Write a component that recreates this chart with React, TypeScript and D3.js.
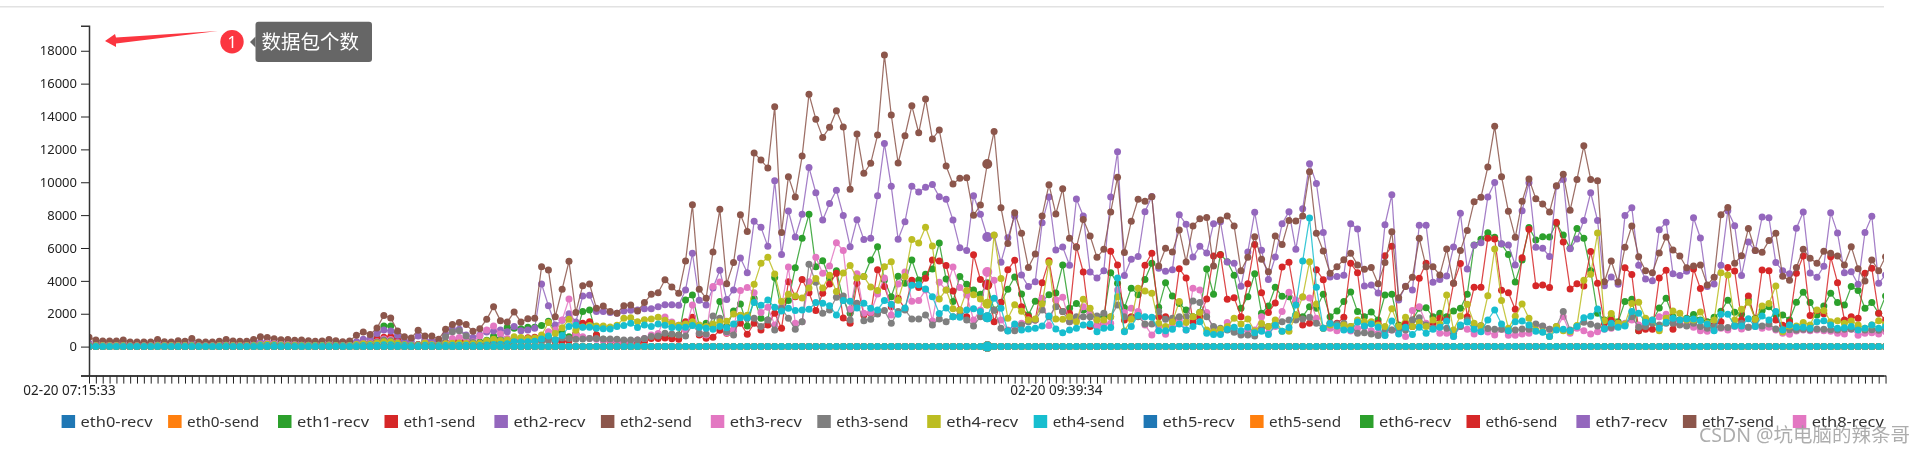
import React, { useEffect, useRef } from "react";
import * as d3 from "d3";

const legendNames = [
  "eth0-recv","eth0-send","eth1-recv","eth1-send","eth2-recv","eth2-send","eth3-recv","eth3-send","eth4-recv","eth4-send",
  "eth5-recv","eth5-send","eth6-recv","eth6-send","eth7-recv","eth7-send","eth8-recv",
];
const hiddenNames = ["eth8-send", "eth9-recv", "eth9-send"];
const palette = ["#1f77b4","#ff7f0e","#2ca02c","#d62728","#9467bd","#8c564b","#e377c2","#7f7f7f","#bcbd22","#17becf"];
const yTickValues = [0,2000,4000,6000,8000,10000,12000,14000,16000,18000];
const xLabelFirst = "02-20 07:15:33";
const xLabelSecond = "02-20 09:39:34";
const hoverIndex = 131;
const secondLabelIndex = 141;

const idle = [
  0,0,0,0,0,0,0,0,0,0,0,0,0,0,0,0,0,0,0,0,0,0,0,0,0,0,0,0,0,0,0,0,0,0,0,0,0,0,0,0,0,0,0,0,0,0,0,0,0,0,
  0,0,0,0,0,0,0,0,0,0,0,0,0,0,0,0,0,0,0,0,0,0,0,0,0,0,0,0,0,0,0,0,0,0,0,0,0,0,0,0,0,0,0,0,0,0,0,0,0,0,
  0,0,0,0,0,0,0,0,0,0,0,0,0,0,0,0,0,0,0,0,0,0,0,0,0,0,0,0,0,0,0,0,0,0,0,0,0,0,0,0,0,0,0,0,0,0,0,0,0,0,
  0,0,0,0,0,0,0,0,0,0,0,0,0,0,0,0,0,0,0,0,0,0,0,0,0,0,0,0,0,0,0,0,0,0,0,0,0,0,0,0,0,0,0,0,0,0,0,0,0,0,
  0,0,0,0,0,0,0,0,0,0,0,0,0,0,0,0,0,0,0,0,0,0,0,0,0,0,0,0,0,0,0,0,0,0,0,0,0,0,0,0,0,0,0,0,0,0,0,0,0,0,
  0,0,0,0,0,0,0,0,0,0,0,0,0,
];

const eth1Recv = [
  60,50,50,50,50,60,40,40,40,40,
  60,50,50,50,50,70,40,40,40,50,
  60,50,50,50,60,90,100,90,80,70,
  70,60,60,50,50,70,60,50,50,120,
  220,180,500,1260,1260,550,200,120,130,350,
  220,150,260,340,360,330,220,280,380,650,
  470,1180,1120,1080,1180,1180,1280,1550,970,840,
  600,750,2130,2230,710,450,420,400,350,330,
  380,420,550,600,650,680,700,2840,3140,1260,
  1420,1320,2740,1220,2170,2590,1260,2920,1720,1620,
  4200,2190,2800,4800,6590,8050,4860,5230,4180,4620,
  2840,2030,4200,4260,5270,6080,4050,3040,4280,3850,
  5270,4050,4400,4720,6300,4110,2740,4260,3790,3450,
  3180,3790,2230,2700,3490,4240,3200,1930,2760,2740,
  3160,3260,4970,2330,2630,2230,2030,1820,1820,4500,
  3850,2370,3550,3160,4090,5070,2390,3890,3080,2630,
  2230,1820,2090,4720,3180,5610,5170,4340,2330,3040,
  4440,2030,2470,3610,3060,3040,1930,1820,2430,2330,
  3180,1820,2170,2740,3320,2130,1820,2110,1620,3140,
  3180,1320,1420,1620,2330,2370,1820,2030,1820,2170,
  2330,3180,6180,6530,6930,6650,6240,5610,3930,5270,
  7240,6490,6690,6670,7500,6790,5980,7180,6590,4620,
  2030,1620,1820,1520,2740,2880,970,1620,1520,2350,
  2940,1820,1620,1720,1950,1620,1520,1780,2150,2820,
  2090,1970,2840,1720,2190,2430,1930,1930,1620,2700,
  3300,2680,1930,2470,3240,2680,2530,3650,3410,2330,
  2680,2030,3080,
];

const eth1Send = [
  80,60,50,50,50,60,40,40,40,40,
  70,50,50,50,50,80,40,40,40,50,
  70,50,50,50,70,140,190,170,120,100,
  100,80,80,60,60,90,60,50,60,150,
  200,260,470,570,610,380,180,100,120,260,
  130,100,200,340,340,340,180,200,230,280,
  270,300,360,500,540,570,500,570,300,300,
  350,800,1420,1520,710,400,300,300,250,250,
  270,300,500,500,520,480,450,1520,1780,710,
  510,570,1000,810,1010,1420,750,1420,1010,1320,
  2030,1110,3950,3040,4090,3280,2190,3240,3810,4460,
  1740,1420,3850,1930,2030,4680,3650,2430,2940,2300,
  4030,3590,4160,5270,5210,4930,3390,2230,1820,5590,
  4090,3750,1520,2680,4680,5250,2430,1820,1620,3890,
  5230,2840,2130,2030,6080,4540,1220,1260,1420,5800,
  4970,1620,1820,2030,4950,5680,1820,1820,1620,4740,
  4180,1500,1820,2900,5510,5590,2880,2980,1820,3830,
  6220,3280,2070,2660,4840,5130,2740,1320,1420,4680,
  4070,1420,1420,1780,5070,4500,1220,1420,1420,5530,
  6100,1010,1420,1220,4160,5070,1420,1720,1620,3850,
  5050,1820,3610,3610,6590,6550,3430,3280,2270,5410,
  7140,3710,3750,3590,7560,6360,3510,3830,3690,5780,
  3850,1420,1620,1420,4800,4380,970,1050,1050,4180,
  4640,1050,1620,1620,4720,3530,1320,1320,1520,4820,
  4600,1620,3080,1620,4660,4620,1620,1300,1500,4460,
  5510,1900,2200,2000,5470,3890,1620,1820,1720,4460,
  4760,2030,1620,
];

const eth2Recv = [
  200,180,170,170,170,180,160,160,160,160,
  200,170,160,170,170,200,160,160,160,170,
  200,170,170,170,220,280,300,270,240,220,
  230,200,210,180,190,220,200,170,180,300,
  450,480,800,1010,950,690,360,300,650,400,
  350,300,700,1050,1050,700,560,700,890,950,
  1010,910,1220,970,1010,1110,3810,2490,1320,1600,
  2000,1500,3080,3120,2130,2130,2070,2030,2170,2210,
  2230,2310,2310,2430,2550,2550,2510,3450,5680,2820,
  2530,3570,4640,2860,3450,5390,4500,7620,7260,6100,
  10090,5610,8250,6670,8050,10900,9360,7700,8700,9510,
  7970,6080,7720,6510,6590,9180,12360,9750,6530,7600,
  9750,9410,9690,9870,9120,8960,7700,6020,5840,9180,
  8050,6670,6770,5130,6630,7950,4360,3650,3950,7540,
  9100,5880,6060,4950,8980,7950,4540,4180,4620,9100,
  11860,4320,5310,5490,8210,9140,4760,4580,4680,8030,
  7440,5450,6100,5700,7480,7600,5150,5070,3670,5760,
  8170,5860,4090,5450,7480,8210,5920,8390,11130,9930,
  6950,4240,4260,4340,7480,7160,3690,3750,3260,7420,
  9240,2840,3670,3450,7380,7380,3910,4090,4300,6060,
  8110,4720,6160,6320,9100,9990,6260,6180,4970,8270,
  9970,6040,5980,5490,9750,10160,5960,6550,7680,9360,
  7680,3710,4240,3790,7970,8450,4950,4110,4010,7110,
  7560,4440,4320,4580,7840,6610,3650,3810,4950,8270,
  7360,4320,6360,5840,7880,7840,5110,4620,4430,7200,
  8190,4480,4220,4890,8150,6910,4500,4560,3790,6950,
  7930,3850,4360,
];

const eth2Send = [
  570,400,340,340,340,400,280,280,280,280,
  440,300,280,360,320,500,280,280,280,320,
  440,340,320,320,440,600,560,480,420,440,
  380,400,360,320,340,440,360,300,340,690,
  890,730,1130,1900,1740,950,600,530,1000,650,
  650,450,1050,1340,1460,1340,930,1090,1660,2430,
  1580,1500,2100,1500,1700,1720,4860,4660,1820,3490,
  5190,2070,3710,3810,2330,2470,2130,2030,2490,2530,
  2170,2680,3180,3280,4070,3630,3240,5210,8630,3490,
  2940,5760,8350,3830,5110,8030,7010,11780,11350,10860,
  14600,6950,10340,9100,11590,15360,13840,12730,13340,14350,
  13360,9570,12930,10540,11150,12870,17740,14090,11170,12830,
  14650,13010,15060,12630,13180,10990,9890,10240,10280,7990,
  8610,11110,13090,8450,6280,8150,6890,4820,5640,7950,
  9850,8070,9610,6590,6040,7740,6730,5430,5920,8190,
  10300,5720,7620,8960,8840,9120,4910,5980,5760,7090,
  5150,7340,7780,7860,4900,7700,7950,7340,4620,5430,
  6690,5310,4560,6730,6220,7680,7640,7950,10640,6890,
  5820,4460,4860,5290,5680,4970,4700,4820,3830,5110,
  6990,2980,3650,4220,6590,4860,4860,4360,5940,3850,
  5840,7070,8820,9080,10930,13400,10340,8230,6650,8840,
  10200,9000,8670,8190,9790,10480,8290,10170,12220,10170,
  10090,3950,5210,3930,6040,7340,5470,4620,4500,5700,
  6670,5880,5510,4800,4900,4970,3750,4220,8030,8470,
  5070,5530,7180,5840,5740,6450,6890,4280,4030,4820,
  5920,5370,5070,5800,5680,5510,4970,6080,4740,3990,
  5270,4620,5470,
];

const eth3Recv = [
  90,70,60,60,60,70,50,50,50,50,
  80,60,60,60,60,90,50,50,50,60,
  80,60,60,60,80,150,200,170,130,110,
  110,90,80,70,70,100,70,60,70,130,
  180,220,300,470,440,250,130,90,100,230,
  130,90,170,500,560,520,280,650,1010,1260,
  770,500,480,450,420,400,500,910,1010,1620,
  2900,700,600,500,450,400,380,300,250,280,
  400,500,700,800,1800,1500,1300,1000,2530,810,
  710,3650,3930,850,1010,3410,3590,3280,2070,2390,
  1320,2430,4840,1420,1520,3950,5430,4460,4910,6320,
  5840,2270,4440,2030,2070,3200,4180,1930,3810,4540,
  2760,2800,3450,1560,3910,3450,4840,3590,3140,1620,
  2230,4540,4030,1620,1010,1220,1420,1620,1620,2940,
  1280,2840,3000,1520,1620,2430,2030,1220,1420,1420,
  3450,2070,2330,2130,1320,710,1220,750,1220,1620,
  1010,3550,3450,2070,1010,810,1460,1110,810,1010,
  1010,1820,810,1220,2130,3300,2840,3000,2960,1720,
  1110,1110,970,1050,950,1110,1220,970,810,710,
  1010,810,610,2190,2430,1420,1110,810,810,610,
  1220,1050,770,1010,890,710,1050,690,690,770,
  810,1320,1220,1050,1110,1820,810,1110,970,770,
  910,1050,1110,1380,1420,1620,1320,1420,1520,1820,
  1970,1620,1420,1320,1180,970,930,1010,1110,1010,
  1220,1070,1180,1220,1110,1180,1010,810,750,950,
  1010,970,1010,970,930,810,770,1050,690,810,
  850,770,910,
];

const eth3Send = [
  70,60,50,50,50,60,40,40,40,40,
  70,50,50,50,50,70,40,40,40,50,
  60,50,50,50,60,120,150,130,100,90,
  90,70,70,60,60,80,60,50,50,100,
  150,180,260,400,350,220,130,80,90,200,
  120,100,600,910,970,650,250,200,300,350,
  400,300,330,320,300,320,300,350,430,520,
  500,450,470,490,490,470,470,450,400,400,
  400,490,610,650,810,770,710,650,1320,810,
  770,1860,1720,910,710,1900,1720,1720,1220,1620,
  1010,2330,1720,1050,1520,5010,3910,2030,2230,3000,
  3080,1620,2640,1580,1660,1990,2190,1420,2130,2230,
  1680,1680,1930,1320,1680,1520,1820,1930,1620,1260,
  1820,1780,2230,1110,970,970,1320,1520,1620,2230,
  1820,2430,2130,1520,1820,1820,1820,1860,2030,1820,
  2530,1820,1720,1820,1380,1380,2130,1660,1720,1820,
  1820,2780,2680,1820,1220,1110,1010,870,710,710,
  650,1110,1220,1380,1520,1620,1620,1680,1780,1420,
  1110,1420,1380,1420,1220,810,850,770,670,1010,
  1010,1110,1010,1620,1760,1320,1110,1220,1110,810,
  1220,1620,1260,1280,1100,1050,1050,970,1010,1070,
  1050,1380,1260,1050,1220,2130,1010,1260,1480,1360,
  1260,1110,1170,1220,1320,1820,1180,1220,1420,1320,
  1420,1420,1320,1260,1420,1220,1110,1220,1170,1170,
  1320,1420,1180,1320,1260,1380,1070,1050,1020,1010,
  1050,1020,1070,1050,1020,1010,1050,1070,1050,1010,
  1020,1000,1090,
];

const eth4Recv = [
  70,55,50,50,50,55,40,40,40,40,
  60,50,50,50,50,70,40,40,40,50,
  60,50,50,50,60,110,140,120,100,90,
  90,70,70,60,60,80,60,50,60,130,
  180,150,220,300,280,200,120,80,90,220,
  120,90,170,210,220,190,170,200,350,450,
  350,400,600,550,500,530,700,1460,800,1150,
  1660,1000,1200,1280,1250,1250,1200,1300,1720,1760,
  1520,1640,1680,1780,1600,1420,1300,1380,1520,1320,
  1220,1380,1520,1540,1990,1910,1910,3790,5070,5430,
  4420,2740,3180,3080,2960,3570,4140,3570,4340,3360,
  4480,4930,4180,4260,3630,3410,4860,5170,2820,4260,
  6510,6300,7260,6120,2900,3450,2310,2210,3410,3160,
  2900,2610,6790,4140,1720,2550,2150,1620,1680,2610,
  5110,1680,1660,1820,1520,2880,2330,1620,1620,1820,
  3040,950,1660,3550,3390,3240,1420,1220,1500,2740,
  1460,1820,2070,1010,910,1050,1220,1720,1380,1680,
  950,1400,1220,1620,930,930,1930,3040,5170,2590,
  1110,1320,1260,1320,1220,1620,1520,1520,1320,1220,
  2310,1220,1780,1220,1460,1220,1620,1380,3140,1010,
  1860,2570,1420,1260,3100,5940,2800,1110,1840,2590,
  1720,1010,910,610,1220,970,910,1280,4030,4400,
  6910,1580,2010,1420,1380,2630,2700,1720,1620,970,
  1720,2170,2030,1620,1620,2110,1420,1620,4500,4360,
  1620,2270,2700,1660,2470,2630,3690,910,1260,1260,
  1460,1320,2230,2190,1520,1580,1420,1560,1320,1120,
  1320,1580,1380,
];

const eth4Send = [
  30,20,20,20,20,20,20,20,20,20,
  30,20,20,20,20,30,20,20,20,20,
  30,20,20,20,30,60,70,60,50,40,
  40,30,30,30,30,40,30,30,30,50,
  70,60,90,120,110,90,60,50,50,90,
  60,50,70,90,90,80,60,70,100,130,
  140,170,300,280,300,320,470,650,400,670,
  1220,1300,1180,1180,1110,1090,1070,1220,1280,1420,
  1160,1320,1220,1380,1300,1160,1160,1180,1280,1180,
  1110,1050,1220,1140,1380,1760,1760,2680,2510,2840,
  2390,2170,2330,2190,2230,2270,2680,2640,2490,1930,
  2800,2760,2350,2640,2330,2230,2800,2570,1970,2350,
  3730,3770,3510,3040,2010,2350,1820,1780,2230,2310,
  2130,1780,2940,2330,950,1380,1010,1070,1110,1260,
  1860,1070,850,1010,1110,1320,1380,910,1110,1160,
  4180,910,1220,1890,1820,1780,970,970,1050,1380,
  1010,1220,1520,810,730,730,1050,1180,970,1180,
  850,930,730,1300,930,1160,2530,5210,7820,3610,
  1110,1400,1260,1010,1010,1500,1260,1380,1180,670,
  1560,770,1180,730,1180,810,1050,1180,1560,610,
  1320,1500,1050,910,1620,2230,1380,970,1520,1560,
  1320,930,870,610,1010,1050,970,1220,1760,1840,
  2290,1070,1420,1180,1260,2130,2030,1480,1620,1110,
  1480,1720,1620,1680,1680,1580,1380,970,1970,1970,
  1260,1260,1700,1220,1860,1620,2130,1010,1320,1180,
  1180,1110,1520,1580,1320,1110,1150,1220,1010,1110,
  1320,1110,1220,
];

const seriesValues: number[][] = [
  idle, idle, eth1Recv, eth1Send, eth2Recv, eth2Send, eth3Recv, eth3Send, eth4Recv, eth4Send,
  idle, idle, idle, idle, idle, idle, idle, idle, idle, idle,
];
const allNames = [...legendNames, ...hiddenNames];

const W = 1926, H = 453;
const AX_L = 89, AX_R = 1884, AX_T = 25.7, AX_B = 375.6;
const FONT = "'Noto Sans', 'Noto Sans CJK SC', sans-serif";

export default function App() {
  const yAxisRef = useRef<SVGGElement>(null);
  const xAxisRef = useRef<SVGGElement>(null);
  const count = eth2Send.length;
  const idx = d3.range(count);
  const x = d3.scalePoint<number>().domain(idx).range([AX_L, AX_L + 6.857 * (count - 1)]);
  const y = d3.scaleLinear().domain([-1764, 19525]).range([AX_B, AX_T]);
  const line = (vals: number[]) =>
    d3.line<number>().x((_, i) => x(i)!).y((v) => y(v))(vals) as string;

  useEffect(() => {
    const ya = d3.select(yAxisRef.current!);
    ya.call(d3.axisLeft(y).tickValues(yTickValues).tickFormat((d) => String(d)).tickSize(8).tickPadding(4) as any);
    const xa = d3.select(xAxisRef.current!);
    xa.call(
      d3.axisBottom(x)
        .tickFormat((d) => (d === 0 ? xLabelFirst : d === secondLabelIndex ? xLabelSecond : ""))
        .tickSize(8)
        .tickSizeOuter(0)
        .tickPadding(2) as any
    );
    xa.selectAll<SVGTextElement, number>("text").attr("dx", (d) => (d === 0 ? -20 : 0));
    for (const a of [ya, xa]) {
      a.selectAll("text").attr("font-family", FONT).attr("font-size", 13).attr("fill", "#222");
      a.selectAll(".tick line").attr("stroke", "#222");
      a.select(".domain").attr("stroke", "#333").attr("stroke-width", 1.5);
      a.attr("font-family", FONT);
    }
    xa.selectAll("text").attr("font-size", 13.5);
    xa.append("line").attr("x1", AX_L - 8).attr("x2", AX_R).attr("y1", 0.5).attr("y2", 0.5)
      .attr("stroke", "#333").attr("stroke-width", 1.5);
  }, []);

  const legendX = (i: number) => 61.6 + Math.floor(i / 2) * 216.4 + (i % 2) * 106.5;

  return (
    <svg width={W} height={H} style={{ position: "absolute", left: 0, top: 0, filter: "blur(0.35px)" }}>
      <rect x={0} y={6} width={1884} height={1.5} fill="#e2e2e2" />
      <defs>
        <clipPath id="plot"><rect x={AX_L} y={AX_T} width={AX_R - AX_L} height={AX_B - AX_T} /></clipPath>
      </defs>
      <g clipPath="url(#plot)">
        {seriesValues.map((vals, s) => {
          const color = palette[s % 10];
          return (
            <g key={allNames[s]}>
              <path d={line(vals)} fill="none" stroke={color} strokeWidth={1.25} strokeOpacity={0.85} />
              {vals.map((v, i) => (
                <circle key={i} cx={x(i)} cy={y(v)} r={i === hoverIndex ? 5 : 3.5} fill={color} />
              ))}
            </g>
          );
        })}
      </g>
      <g ref={yAxisRef} transform={`translate(${AX_L},0)`} />
      <g ref={xAxisRef} transform={`translate(0,${AX_B})`} />

      {legendNames.map((n, i) => (
        <g key={n} transform={`translate(${legendX(i)},0)`}>
          <rect x={0} y={415} width={13.5} height={13} fill={palette[i % 10]} />
          <text x={19} y={426.5} fontFamily={FONT} fontSize={15} fill="#333" textLength={72} lengthAdjust="spacingAndGlyphs">{n}</text>
        </g>
      ))}

      <path d="M218,31 L116,37.5 L115,34 L105,41 L116,47 L116,43.5 Z" fill="#fb3640" />
      <circle cx={232} cy={41.7} r={11.7} fill="#fb3640" />
      <text x={232} y={47.5} textAnchor="middle" fontFamily={FONT} fontSize={16} fill="#fff">1</text>
      <path d="M250,42 L255.5,36.5 L255.5,47.5 Z" fill="#666" />
      <rect x={255.5} y={21.7} width={116.5} height={40.3} rx={3} fill="#666" />
      <text x={261.5} y={48.5} fontFamily={FONT} fontSize={19.5} fill="#fff">数据包个数</text>

      <text x={1699} y={441.5} fontFamily={FONT} fontSize={19.5} fill="#999" fillOpacity={0.8} textLength={211} lengthAdjust="spacingAndGlyphs">CSDN @坑电脑的辣条哥</text>
    </svg>
  );
}
